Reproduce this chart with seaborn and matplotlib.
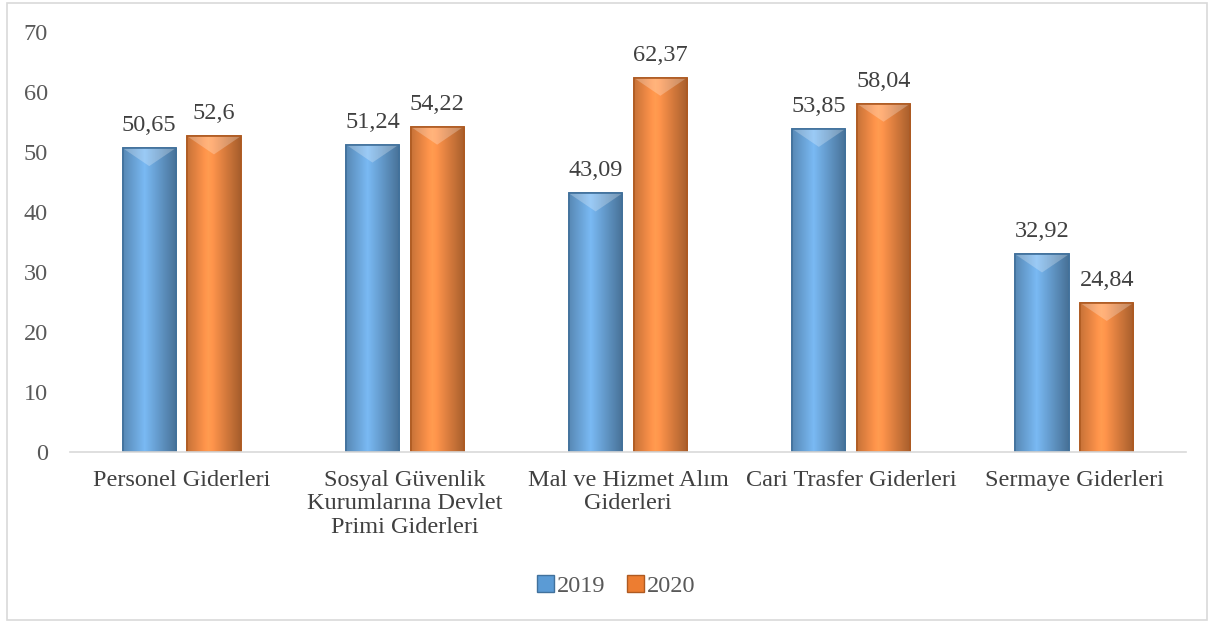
import matplotlib.pyplot as plt
import matplotlib.patches as mpatches
import numpy as np
import pandas as pd
import seaborn as sns

# Data
categories = ["Personel Giderleri",
              "Sosyal Güvenlik\nKurumlarına Devlet\nPrimi Giderleri",
              "Mal ve Hizmet Alım\nGiderleri",
              "Cari Trasfer Giderleri",
              "Sermaye Giderleri"]
values_2019 = [50.65, 51.24, 43.09, 53.85, 32.92]
values_2020 = [52.6, 54.22, 62.37, 58.04, 24.84]
labels_2019 = ["50,65", "51,24", "43,09", "53,85", "32,92"]
labels_2020 = ["52,6", "54,22", "62,37", "58,04", "24,84"]
years = ["2019", "2020"]

df = pd.DataFrame({
    "cat": categories * 2,
    "year": [years[0]] * 5 + [years[1]] * 5,
    "value": values_2019 + values_2020,
})

sns.set_style("white")
plt.rcParams["font.family"] = ["Liberation Serif", "DejaVu Serif"]

blue = "#5B9BD5"
orange = "#ED7D31"
edge = {"2019": "#41719C", "2020": "#AE5A21"}
fs = 17.5

fig = plt.figure(figsize=(12.14, 6.22), dpi=100)
ax = fig.add_axes([70 / 1214, 1 - 452 / 622, 1116 / 1214, 420 / 622])

sns.barplot(data=df, x="cat", y="value", hue="year", order=categories,
            hue_order=years, palette=[blue, orange], width=0.58, gap=0.18,
            ax=ax, legend=False, saturation=1)

# gradient shading on bars
grad = np.linspace(0, 1, 64)
shade = 1 - 0.35 * np.abs(grad - 0.4) / 0.6
for patch, yr in zip(ax.patches, [years[0]] * 5 + [years[1]] * 5):
    patch.set_edgecolor(edge[yr])
    patch.set_linewidth(1.2)
    base = np.array(plt.matplotlib.colors.to_rgb(patch.get_facecolor()))
    img = np.clip(base[None, None, :] * shade[None, :, None] + 0.12 * (1 - np.abs(grad - 0.4))[None, :, None], 0, 1)
    x0, y0 = patch.get_x(), patch.get_y()
    w, h = patch.get_width(), patch.get_height()
    im = ax.imshow(img, extent=[x0, x0 + w, y0, y0 + h], aspect="auto", zorder=patch.get_zorder() + 0.1)
    im.set_clip_path(patch)
    # lighter chevron at the top
    tri = mpatches.Polygon([[x0, y0 + h], [x0 + w, y0 + h], [x0 + w / 2, y0 + h - 3.0]],
                           closed=True, facecolor="white", alpha=0.25, edgecolor="none",
                           zorder=patch.get_zorder() + 0.2)
    ax.add_patch(tri)
    ax.add_patch(mpatches.Rectangle((x0, y0), w, h, fill=False, edgecolor=edge[yr],
                                    linewidth=1.2, zorder=patch.get_zorder() + 0.3))

ax.set_xlim(-0.5, 4.5)
ax.set_ylim(0, 70)
ax.set_yticks(range(0, 71, 10))

for i, p in enumerate(ax.patches[:10]):
    lab = (labels_2019 + labels_2020)[i]
    ax.text(p.get_x() + p.get_width() / 2, p.get_height() + 2.0, lab,
            ha="center", va="bottom", fontsize=fs, color="#404040")

ax.set_xlabel("")
ax.set_ylabel("")
ax.tick_params(axis="both", length=0, labelsize=fs, colors="#595959")
ax.tick_params(axis="y", pad=16)
ax.tick_params(axis="x", pad=13)
for lbl in ax.get_xticklabels():
    lbl.set_linespacing(1.15)
    lbl.set_color("#404040")
for s in ["top", "right", "left"]:
    ax.spines[s].set_visible(False)
ax.spines["bottom"].set_color("#D9D9D9")
ax.spines["bottom"].set_linewidth(1.2)

handles = [mpatches.Patch(facecolor=blue, edgecolor=edge["2019"], label="2019"),
           mpatches.Patch(facecolor=orange, edgecolor=edge["2020"], label="2020")]
fig.legend(handles=handles, loc="center", bbox_to_anchor=(616 / 1214, 1 - 586 / 622),
           ncol=2, frameon=False, fontsize=fs, handlelength=0.7, handleheight=0.7,
           handletextpad=0.1, columnspacing=0.9, labelcolor="#595959")

fig.patches.append(mpatches.Rectangle((7 / 1214, 2 / 622), 1200 / 1214, 617 / 622,
                                      transform=fig.transFigure, fill=False,
                                      edgecolor="#D9D9D9", linewidth=1.2))

fig.savefig("out.png", dpi=100)
